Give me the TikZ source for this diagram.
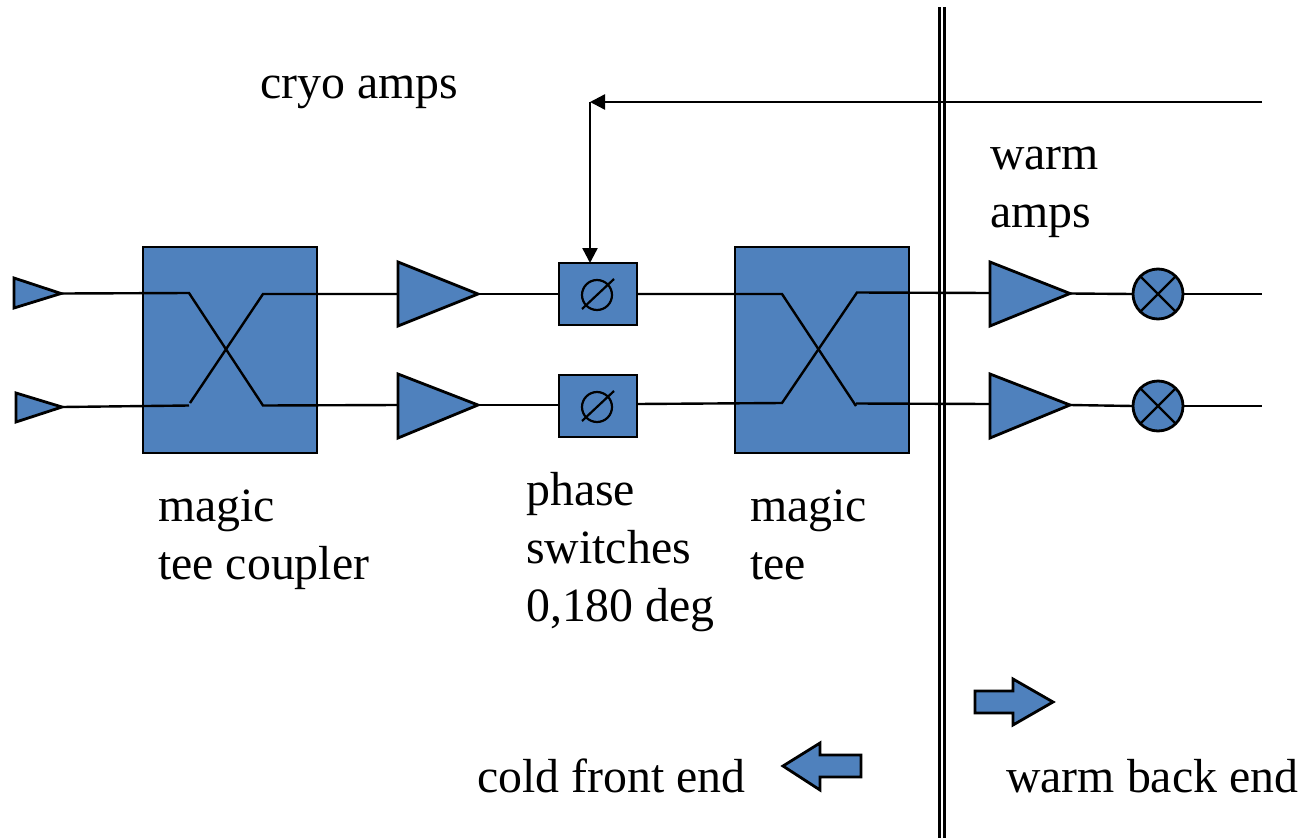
\documentclass[tikz,border=0pt]{standalone}
\usepackage{fontspec}
\setmainfont{Liberation Serif}
\usetikzlibrary{arrows.meta,calc}
\definecolor{blk}{HTML}{4F81BD}
\tikzset{
 x=1pt,y=-1pt,
 wire/.style={draw=black,line width=2.4pt,line join=miter},
 shape blue/.style={draw=black,fill=blk,line width=2.8pt,line join=miter},
 boxrect/.style={shape blue,rectangle,minimum width=#1,inner sep=0pt,outer sep=0pt},
 mixer/.style={shape blue,circle,minimum size=50pt,inner sep=0pt,outer sep=0pt},
 label text/.style={anchor=base west,inner sep=0pt,font=\fontsize{47.8}{47.8}\selectfont},
 tip/.style={-{Triangle[length=15pt,width=15pt]}},
}
\begin{document}
\begin{tikzpicture}
\useasboundingbox (0,0) rectangle (1307,838);
% boxes
\node[boxrect=174pt,minimum height=206pt] (mt1) at (230,350) {};
\node[boxrect=174pt,minimum height=206pt] (mt2) at (822,350) {};
\node[boxrect=78pt,minimum height=62pt] (ps1) at (598,294) {};
\node[boxrect=78pt,minimum height=62pt] (ps2) at (598,406) {};
\node[mixer] (mx1) at (1158,294) {};
\node[mixer] (mx2) at (1158,406) {};
% coordinates
\coordinate (s1) at (61,293.5);
\coordinate (s2) at (62,407);
\coordinate (a1in) at (398,294);
\coordinate (a2in) at (398,405);
\coordinate (a1out) at (478,294);
\coordinate (a2out) at (478,405);
\coordinate (w1in) at (990,293);
\coordinate (w2in) at (990,404);
\coordinate (w1out) at (1070,293.5);
\coordinate (w2out) at (1070,405);
\coordinate (e1) at (1262,294);
\coordinate (e2) at (1262,406);
\coordinate (fb) at (1262,102);
\coordinate (corner) at (590,102);
% wires
\draw[wire] (s1) -- (189,293) -- (263,405.5) -- (a2in);
\draw[wire] (s2) -- (189,405.5);
\draw[wire] (190,403) -- (263,294) -- (a1in);
\draw[wire] (a1out) -- (ps1.west);
\draw[wire] (a2out) -- (a2out -| ps2.west);
\draw[wire] (ps1.east) -- (782,294) -- (856,406);
\draw[wire] (856,403.5) -- (w2in);
\draw[wire] (ps2.east |- 0,404) -- (782,403) -- (857,292.5) -- (w1in);
\draw[wire] (w1out) -- (mx1.west);
\draw[wire] (w2out) -- (mx2.west);
\draw[wire] (mx1.east) -- (e1);
\draw[wire] (mx2.east) -- (e2);
% triangles
\draw[shape blue] (14,278) -- (14,308) -- (s1) -- cycle;
\draw[shape blue] (16,393) -- (16,422) -- (s2) -- cycle;
\draw[shape blue] (398,262) -- (398,326) -- (a1out) -- cycle;
\draw[shape blue] (398,374) -- (398,438) -- (a2out) -- cycle;
\draw[shape blue] (990,262) -- (990,326) -- (w1out) -- cycle;
\draw[shape blue] (990,374) -- (990,438) -- (w2out) -- cycle;
% phase symbols
\foreach \p in {ps1,ps2}{
 \draw[line width=2.2pt] ($(\p.center)+(-1,1)$) circle[radius=15pt];
 \draw[line width=2.2pt] ($(\p.center)+(-16,15)$) -- ($(\p.center)+(16,-15)$);
}
% mixer crosses
\foreach \m in {mx1,mx2}{
 \draw[line width=2.4pt] (\m.north west) -- (\m.south east);
 \draw[line width=2.4pt] (\m.north east) -- (\m.south west);
}
% feedback
\draw[wire,tip] (fb) -- (corner);
\draw[wire,tip] (corner) -- (ps1.north -| corner);
% double line
\draw[line width=2.2pt] (939.5,7) -- (939.5,838);
\draw[line width=2.2pt] (944.5,7) -- (944.5,838);
% block arrows
\draw[shape blue] (975,691) -- (1013,691) -- (1013,679) -- (1053,702) -- (1013,725) -- (1013,713) -- (975,713) -- cycle;
\draw[shape blue] (861,755) -- (820,755) -- (820,743) -- (783,766) -- (820,790) -- (820,777) -- (861,777) -- cycle;
% text
\node[label text] (t1) at (260,98) {cryo amps};
\node[label text] (t2) at (990,169) {warm};
\node[label text] (t3) at (990,227) {amps};
\node[label text] (t4) at (158,521) {magic};
\node[label text] (t5) at (158,579) {tee coupler};
\node[label text] (t6) at (526,505) {phase};
\node[label text] (t7) at (526,563) {switches};
\node[label text] (t8) at (526,621) {0,180 deg};
\node[label text] (t9) at (750,521) {magic};
\node[label text] (t10) at (750,579) {tee};
\node[label text] (t11) at (477,792) {cold front end};
\node[label text] (t12) at (1006,792) {warm back end};
\end{tikzpicture}
\end{document}
